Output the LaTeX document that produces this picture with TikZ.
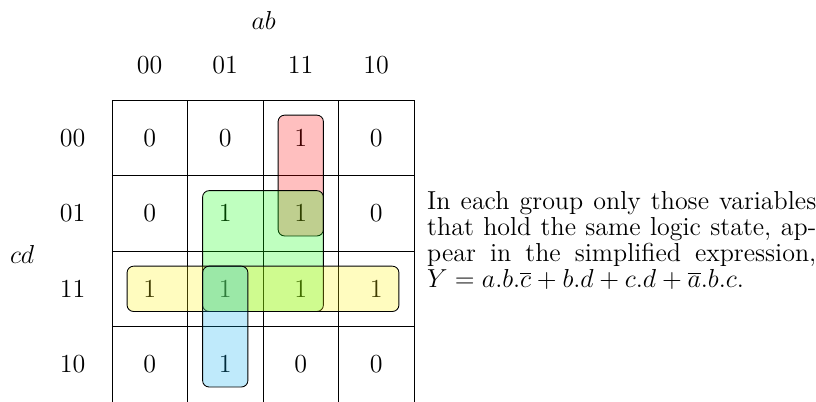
\documentclass[tikz,border=0pt]{standalone}
\usetikzlibrary{calc}
\tikzset{
  every picture/.style={line width=0.4pt, font=\fontsize{12}{12}\selectfont},
  group/.style={draw=black, fill=#1, fill opacity=0.25, rounded corners=3pt},
  group/.default=red,
  celltext/.style={inner sep=0pt},
  note/.style={text width=179.6pt, align=justify, inner sep=0pt, anchor=north west},
}
\begin{document}
\begin{tikzpicture}[scale=1.225]
  \useasboundingbox (-1.483,1.325) rectangle (9.325,-3.996);
  \draw (0,-4) grid (4,0);
  \foreach \row [count=\r from 0] in {{0,0,1,0},{0,1,1,0},{1,1,1,1},{0,1,0,0}} {
    \foreach \v [count=\c from 0] in \row
      \node[celltext] (c-\r-\c) at (\c+0.5,-\r-0.5) {\v};
  }
  \foreach \lab [count=\i from 0] in {00,01,11,10} {
    \node (ab-\i) at (\i+0.5,0.46) {\lab};
    \node (cd-\i) at (-0.52,-\i-0.5) {\lab};
  }
  \node (ab) at (2.01,1.06) {$ab$};
  \node (cd) at (-1.19,-2.05) {$cd$};
  \draw[group=red] ($(c-0-2)+(-0.3,0.3)$) rectangle ($(c-1-2)+(0.3,-0.3)$);
  \draw[group=green] ($(c-1-1)+(-0.3,0.3)$) rectangle ($(c-2-2)+(0.3,-0.3)$);
  \draw[group=yellow] ($(c-2-0)+(-0.3,0.3)$) rectangle ($(c-2-3)+(0.3,-0.3)$);
  \draw[group=cyan] ($(c-2-1)+(-0.3,0.3)$) rectangle ($(c-3-1)+(0.3,-0.3)$);
  \node[note] (expl) at (4.17,-1.205) {In each group only those variables that hold the same logic state, appear in the simplified expression, $Y = a.b.\overline{c} + b.d + c.d + \overline{a}.b.c$.};
\end{tikzpicture}
\end{document}
